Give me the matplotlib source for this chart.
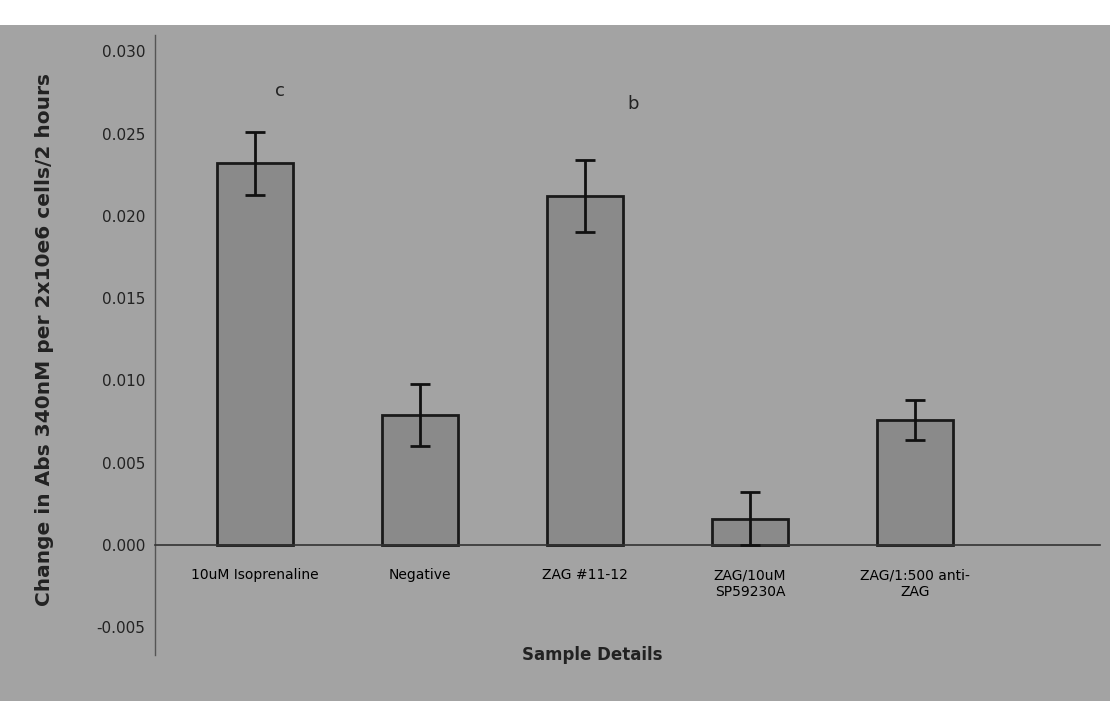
import matplotlib
matplotlib.use("Agg")
import matplotlib.pyplot as plt
from matplotlib.patches import Rectangle
from matplotlib.ticker import FormatStrFormatter

samples = ["10uM Isoprenaline", "Negative", "ZAG #11-12", "ZAG/10uM\nSP59230A", "ZAG/1:500 anti-\nZAG"]
means = [0.0232, 0.0079, 0.0212, 0.0016, 0.0076]
errors = [0.0019, 0.0019, 0.0022, 0.0016, 0.0012]
letters = {"c": (0.15, 0.0276), "b": (2.29, 0.0268)}

bg = "#a3a3a3"
fig = plt.figure(figsize=(11.1, 7.01), dpi=100)
fig.patch.set_facecolor("white")
# scanned grey panel below the white strip at the top
fig.patches.append(Rectangle((0, 0), 1, 1 - 25 / 701, transform=fig.transFigure,
                             facecolor=bg, edgecolor="none", zorder=0))

ax = fig.add_axes([155 / 1110, 46 / 701, 945 / 1110, 620 / 701])
ax.set_zorder(2)
ax.set_facecolor("none")

x = list(range(len(samples)))
ax.bar(x, means, width=0.46, color="#8a8a8a", edgecolor="#1a1a1a", linewidth=2, zorder=2)
ax.errorbar(x, means, yerr=errors, fmt="none", ecolor="#111111", elinewidth=2,
            capsize=7, capthick=2, zorder=3)

for txt, (lx, ly) in letters.items():
    ax.text(lx, ly, txt, fontsize=13, ha="center", va="center", color="#222222")

ax.set_xlim(-0.606, 5.12)
ax.set_ylim(-0.0067, 0.031)
ax.set_yticks([-0.005, 0.0, 0.005, 0.010, 0.015, 0.020, 0.025, 0.030])
ax.yaxis.set_major_formatter(FormatStrFormatter("%.3f"))
ax.set_xticks(x)
ax.set_xticklabels(samples, fontsize=11, color="#222222")
ax.tick_params(axis="x", length=0, pad=17)
ax.tick_params(axis="y", length=0, labelsize=11, labelcolor="#222222", pad=7)

ax.spines["top"].set_visible(False)
ax.spines["right"].set_visible(False)
ax.spines["bottom"].set_position(("data", 0))
ax.spines["bottom"].set_color("#333333")
ax.spines["left"].set_color("#555555")
ax.spines["bottom"].set_linewidth(1.2)
ax.spines["left"].set_linewidth(1.0)

ax.set_ylabel("Change in Abs 340nM per 2x10e6 cells/2 hours", fontsize=14.5,
              fontweight="bold", color="#222222")
ax.yaxis.set_label_coords(-(155 - 45) / 945, (701 - 340 - 46) / 620)
ax.yaxis.label.set_va("center")
ax.set_xlabel("Sample Details", fontsize=12, fontweight="bold", color="#222222")
ax.xaxis.label.set_va("center")
ax.xaxis.set_label_coords((592 - 155) / 945, (701 - 655 - 46) / 620)

fig.savefig("out.png", dpi=100, facecolor=fig.get_facecolor())
